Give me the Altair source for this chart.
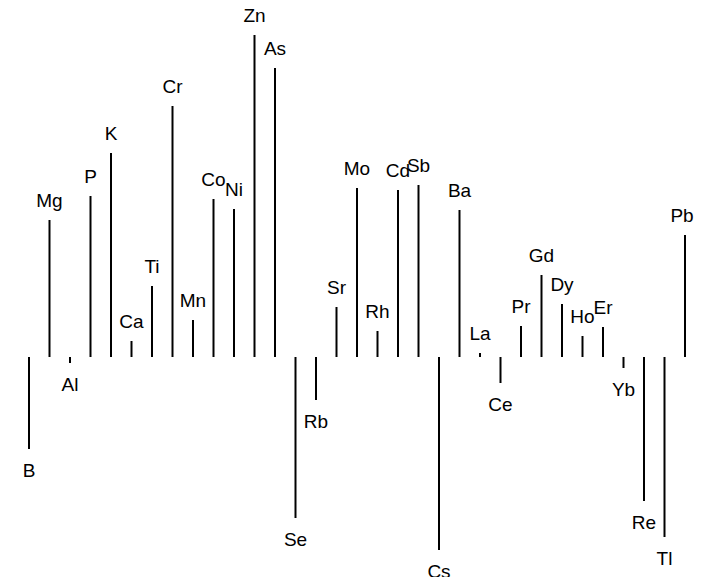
import altair as alt
import pandas as pd

elements = ["B", "Mg", "Al", "P", "K", "Ca", "Ti", "Cr", "Mn", "Co", "Ni", "Zn", "As",
            "Se", "Rb", "Sr", "Mo", "Rh", "Cd", "Sb", "Cs", "Ba", "La", "Ce", "Pr",
            "Gd", "Dy", "Ho", "Er", "Yb", "Re", "Tl", "Pb"]
values = [-0.92, 1.37, -0.06, 1.61, 2.04, 0.16, 0.71, 2.51, 0.37, 1.58, 1.48, 3.22, 2.89,
          -1.61, -0.43, 0.50, 1.69, 0.26, 1.67, 1.72, -1.93, 1.47, 0.04, -0.26, 0.31,
          0.82, 0.53, 0.21, 0.30, -0.11, -1.44, -1.80, 1.22]

df = pd.DataFrame({"element": elements, "value": values, "zero": [0.0] * len(values)})

x = alt.X("element:N", sort=elements, axis=None,
          scale=alt.Scale(type="point", range=[21, 677], padding=0))
y_scale = alt.Scale(domain=[-2, 3], range=[549, 49])

rules = alt.Chart(df).mark_rule(color="black", strokeWidth=2).encode(
    x=x,
    y=alt.Y("value:Q", scale=y_scale, axis=None),
    y2="zero:Q",
)

font = dict(font="Liberation Sans", fontSize=19, color="black", align="center", baseline="middle")

up = alt.Chart(df).transform_filter("datum.value >= 0 && datum.element != 'Pb'").mark_text(
    dy=-19.5, **font).encode(
    x=x, y=alt.Y("value:Q", scale=y_scale, axis=None), text="element:N")
up_edge = alt.Chart(df).transform_filter("datum.element == 'Pb'").mark_text(
    dy=-19.5, dx=-3, **font).encode(
    x=x, y=alt.Y("value:Q", scale=y_scale, axis=None), text="element:N")
down = alt.Chart(df).transform_filter("datum.value < 0").mark_text(dy=22, **font).encode(
    x=x, y=alt.Y("value:Q", scale=y_scale, axis=None), text="element:N")

chart = (rules + up + up_edge + down).properties(
    width=686, height=569,
    autosize=alt.AutoSizeParams(type="none"),
    padding=0,
).configure_view(stroke=None)

chart.save("out.html", embed_options={"renderer": "svg", "actions": False})
